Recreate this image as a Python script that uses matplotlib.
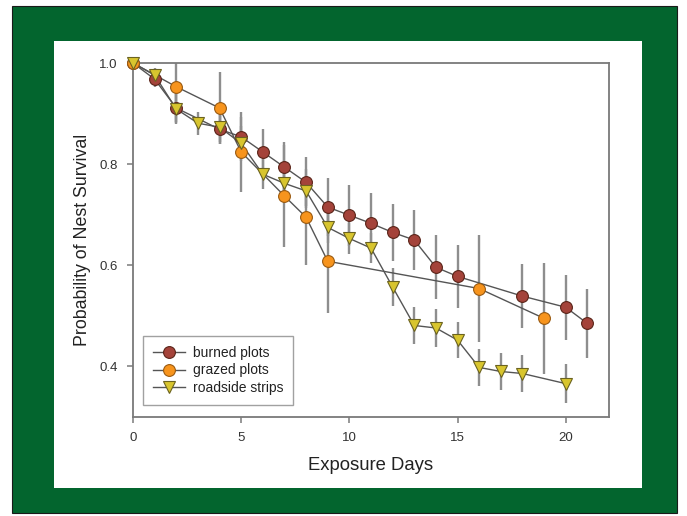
import numpy as np
import matplotlib.pyplot as plt
from matplotlib.patches import Rectangle
from matplotlib.lines import Line2D

plt.rcParams['font.family'] = ['Liberation Sans', 'DejaVu Sans']

# burned plots
burned_days = [0, 1, 2, 4, 5, 6, 7, 8, 9, 10, 11, 12, 13, 14, 15, 18, 20, 21]
burned_surv = [1.0, 0.968, 0.911, 0.869, 0.854, 0.824, 0.794, 0.764, 0.715, 0.699,
               0.683, 0.665, 0.650, 0.596, 0.578, 0.539, 0.517, 0.485]
burned_err = [0.0, 0.015, 0.03, 0.03, 0.04, 0.045, 0.05, 0.05, 0.058, 0.06,
              0.06, 0.057, 0.06, 0.063, 0.063, 0.064, 0.064, 0.068]

# grazed plots
grazed_days = [0, 2, 4, 5, 7, 8, 9, 16, 19]
grazed_surv = [1.0, 0.953, 0.911, 0.824, 0.737, 0.695, 0.608, 0.554, 0.495]
grazed_err = [0.0, 0.07, 0.072, 0.079, 0.1, 0.095, 0.103, 0.106, 0.11]

# roadside strips
road_days = [0, 1, 2, 3, 4, 5, 6, 7, 8, 9, 10, 11, 12, 13, 14, 15, 16, 17, 18, 20]
road_surv = [1.0, 0.976, 0.909, 0.881, 0.873, 0.841, 0.780, 0.762, 0.747, 0.675,
             0.653, 0.634, 0.557, 0.481, 0.476, 0.452, 0.398, 0.390, 0.386, 0.366]
road_err = [0.0, 0.015, 0.03, 0.023, 0.03, 0.035, 0.03, 0.03, 0.03, 0.03,
            0.03, 0.03, 0.037, 0.037, 0.037, 0.036, 0.036, 0.036, 0.036, 0.038]

series = [
    ("burned plots", burned_days, burned_surv, burned_err, 'o', '#a4433a', '#5a2418'),
    ("grazed plots", grazed_days, grazed_surv, grazed_err, 'o', '#f7941d', '#9a5a10'),
    ("roadside strips", road_days, road_surv, road_err, 'v', '#d8c52e', '#6b6320'),
]

fig = plt.figure(figsize=(6.87, 5.16), dpi=100)
fig.patch.set_facecolor('white')
# green frame and white panel
fig.patches.append(Rectangle((12/687, 1-513/516), 665/687, 507/516, transform=fig.transFigure,
                             facecolor='#03652e', edgecolor='#1a1a1a', lw=0.8, zorder=-2))
fig.patches.append(Rectangle((54/687, 1-488/516), 588/687, 447/516, transform=fig.transFigure,
                             facecolor='white', edgecolor='none', zorder=-1))

ax = fig.add_axes([133/687, 1-417/516, 476/687, 354/516])
ax.patch.set_alpha(0)

for name, d, s, e, m, fc, ec in series:
    ax.errorbar(d, s, yerr=e, fmt='none', ecolor='#8e8e8e', elinewidth=1.7, capsize=0, zorder=1)
for name, d, s, e, m, fc, ec in series:
    ax.plot(d, s, color='#555555', lw=1.0, zorder=2)
for name, d, s, e, m, fc, ec in series:
    ax.plot(d, s, linestyle='none', marker=m, markersize=8.5 if m == 'o' else 9,
            markerfacecolor=fc, markeredgecolor=ec, markeredgewidth=0.8, zorder=3, clip_on=False)

ax.set_xlim(0, 22)
ax.set_ylim(0.3, 1.0)
ax.set_xticks([0, 5, 10, 15, 20])
ax.set_yticks([0.4, 0.6, 0.8, 1.0])
ax.set_yticklabels(['0.4', '0.6', '0.8', '1.0'])
for sp in ax.spines.values():
    sp.set_color('#7a7a7a')
    sp.set_linewidth(1.3)
ax.tick_params(direction='out', length=4, width=1.1, color='#7a7a7a', labelsize=9.5,
               labelcolor='#333333', pad=7)
ax.set_xlabel('Exposure Days', fontsize=13.3, color='#222222', labelpad=9)
ax.set_ylabel('Probability of Nest Survival', fontsize=12.8, color='#222222', labelpad=6)

handles = [Line2D([], [], color='#555555', lw=1.0, marker=m, markersize=8.5 if m == 'o' else 9,
                  markerfacecolor=fc, markeredgecolor=ec, markeredgewidth=0.8)
           for name, d, s, e, m, fc, ec in series]
leg = ax.legend(handles, [x[0] for x in series], loc='lower left', bbox_to_anchor=(0.021, 0.034),
                borderaxespad=0, fontsize=10, frameon=True, fancybox=False, handlelength=2.3,
                labelspacing=0.27, borderpad=0.7, handletextpad=0.6)
leg.get_frame().set_edgecolor('#8a8a8a')
leg.get_frame().set_linewidth(1.0)
for t in leg.get_texts():
    t.set_color('#222222')

fig.savefig('out.png', dpi=100)
